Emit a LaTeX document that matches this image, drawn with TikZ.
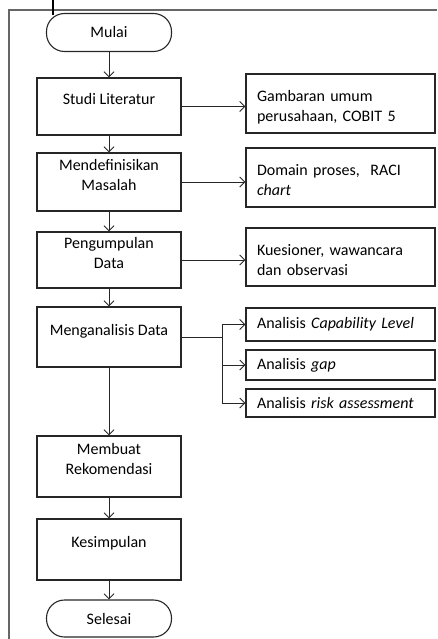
\documentclass[tikz,border=0pt]{standalone}
\usepackage{fontspec}
\setmainfont{Carlito}
\usetikzlibrary{arrows.meta}

\begin{document}
\begin{tikzpicture}[x=1pt,y=-1pt,
  font=\fontsize{16}{20}\selectfont,
  kotak/.style={draw=black!85, line width=1.1pt, minimum width=144pt, align=center, text depth=15pt},
  ujung/.style={draw=black!85, line width=1.1pt, rounded corners=18pt, minimum width=125pt, minimum height=38pt},
  ket/.style={draw=black!85, line width=1.1pt, text width=167pt, inner xsep=11pt, align=left},
  panah/.style={black!85, line width=1pt, ->, >={Straight Barb[length=5pt,width=10pt]}}]
\useasboundingbox (0,0) rectangle (437,639);
\draw[black!60, line width=1.2pt] (437,10) -- (9,10) -- (9,639);
\draw[black, line width=1.5pt] (53,0) -- (53,15);
% alur utama
\node[ujung] (mulai) at (109,32.5) {Mulai};
\node[kotak, minimum height=57pt] (studi) at (109,106.5) {Studi Literatur};
\node[kotak, minimum height=58pt] (definisi) at (109,182) {Mendefinisikan\\Masalah};
\node[kotak, minimum height=56pt] (kumpul) at (109,260) {Pengumpulan\\Data};
\node[kotak, minimum height=60pt] (analisis) at (109,337) {Menganalisis Data};
\node[kotak, minimum height=61pt] (rekom) at (109,466.5) {Membuat\\Rekomendasi};
\node[kotak, minimum height=61pt] (simpul) at (109,549.5) {Kesimpulan};
\node[ujung, minimum height=37pt] (selesai) at (109,618.5) {Selesai};
% keterangan
\node[ket, minimum height=59pt, text depth=15pt] (gambaran) at (340.5,103.5) {Gambaran umum\\perusahaan, COBIT 5};
\node[ket, minimum height=59pt, text depth=15pt] (domain) at (340.5,177.5) {Domain proses,\ \ RACI\\\textit{chart}};
\node[ket, minimum height=58pt, text depth=15pt] (kuesioner) at (340.5,257) {Kuesioner, wawancara\\dan observasi};
\node[ket, minimum height=33pt] (capability) at (340.5,324.5) {Analisis \textit{Capability Level}};
\node[ket, minimum height=30pt] (gap) at (340.5,365) {Analisis \textit{gap}};
\node[ket, minimum height=28pt] (risk) at (340.5,403) {Analisis \textit{risk assessment}};
\foreach \a/\b in {mulai/studi, studi/definisi, definisi/kumpul, kumpul/analisis, analisis/rekom, rekom/simpul, simpul/selesai}
  \draw[panah] (\a) -- (\b);
\foreach \a/\b in {studi/gambaran, definisi/domain, kumpul/kuesioner}
  \draw[panah] (\a.east) -- (\a.east -| \b.west);
\coordinate (cabang) at (222,337);
\draw[black!85, line width=1pt] (analisis.east) -- (cabang);
\foreach \b in {capability, gap, risk}
  \draw[panah] (cabang) |- (\b.west);
\end{tikzpicture}
\end{document}
